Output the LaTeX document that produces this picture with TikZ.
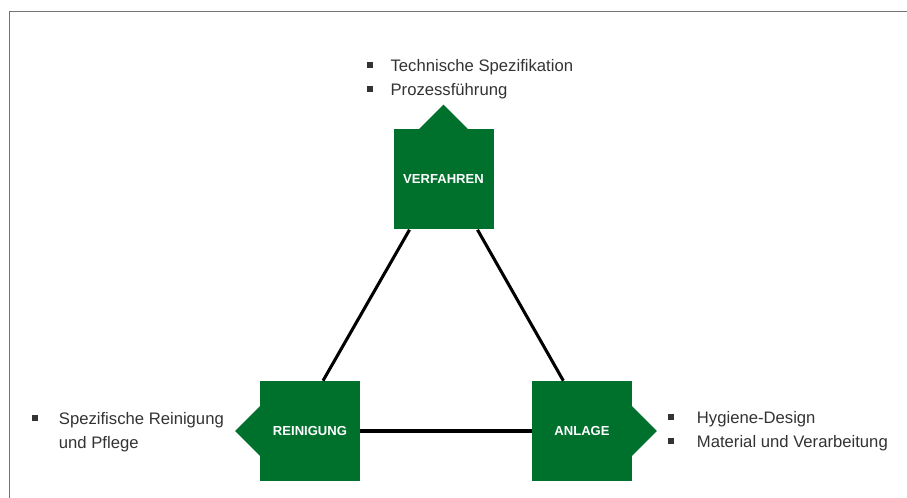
\documentclass[tikz,border=0pt]{standalone}
\usepackage{fontspec}
\setmainfont{Liberation Sans}
\definecolor{vgreen}{RGB}{0,112,45}
\newcommand{\sqbullet}{\rule[3.3pt]{4pt}{4pt}}

\begin{document}
\begin{tikzpicture}[
        x = 0.75pt, y = -0.75pt,
        line join=round,
        box/.style = {fill=vgreen, text=white, font=\fontsize{9.8}{11}\selectfont\bfseries, minimum size=75pt, inner sep=0pt},
        link/.style = {line width=2.3pt, black},
        bullets/.style = {anchor=base west, inner sep=0pt, text=black!80, font=\fontsize{12.5}{18}\selectfont}
    ]

    \useasboundingbox (0, 0) rectangle (907, 498);
    \draw[line width=1.2pt, black!55] (9.5, 498) -- (9.5, 11.5) -- (907, 11.5);

    \node[box] (verf) at (443.5, 179.5) {VERFAHREN};
    \node[box] (rein) at (310, 431) {REINIGUNG};
    \node[box] (anl) at (582, 431) {ANLAGE};

    \fill[vgreen] (verf.north) ++ (-25, 0.5) --++ (25, -25) --++ (25, 25) -- cycle;
    \fill[vgreen] (rein.west) ++ (0.5, -25) --++ (-25, 25) --++ (25, 25) -- cycle;
    \fill[vgreen] (anl.east) ++ (-0.5, -25) --++ (25, 25) --++ (-25, 25) -- cycle;

    \draw[link] ([xshift=-25.5pt]verf.south) -- ([xshift=9.75pt]rein.north);
    \draw[link] ([xshift=25.5pt]verf.south) -- ([xshift=-14pt]anl.north);
    \draw[link] (rein.east) -- (anl.west);

    \node[bullets] (verflist) at (367, 72) {\begin{tabular}[t]{@{}l@{\hspace{13.5pt}}l@{}}
        \sqbullet & Technische Spezifikation\\
        \sqbullet & Prozessführung
    \end{tabular}};
    \node[bullets] (reinlist) at (32, 425) {\begin{tabular}[t]{@{}l@{\hspace{16pt}}l@{}}
        \sqbullet & Spezifische Reinigung\\
                  & und Pflege
    \end{tabular}};
    \node[bullets] (anllist) at (668, 424) {\begin{tabular}[t]{@{}l@{\hspace{17.5pt}}l@{}}
        \sqbullet & Hygiene-Design\\
        \sqbullet & Material und Verarbeitung
    \end{tabular}};

\end{tikzpicture}
\end{document}
